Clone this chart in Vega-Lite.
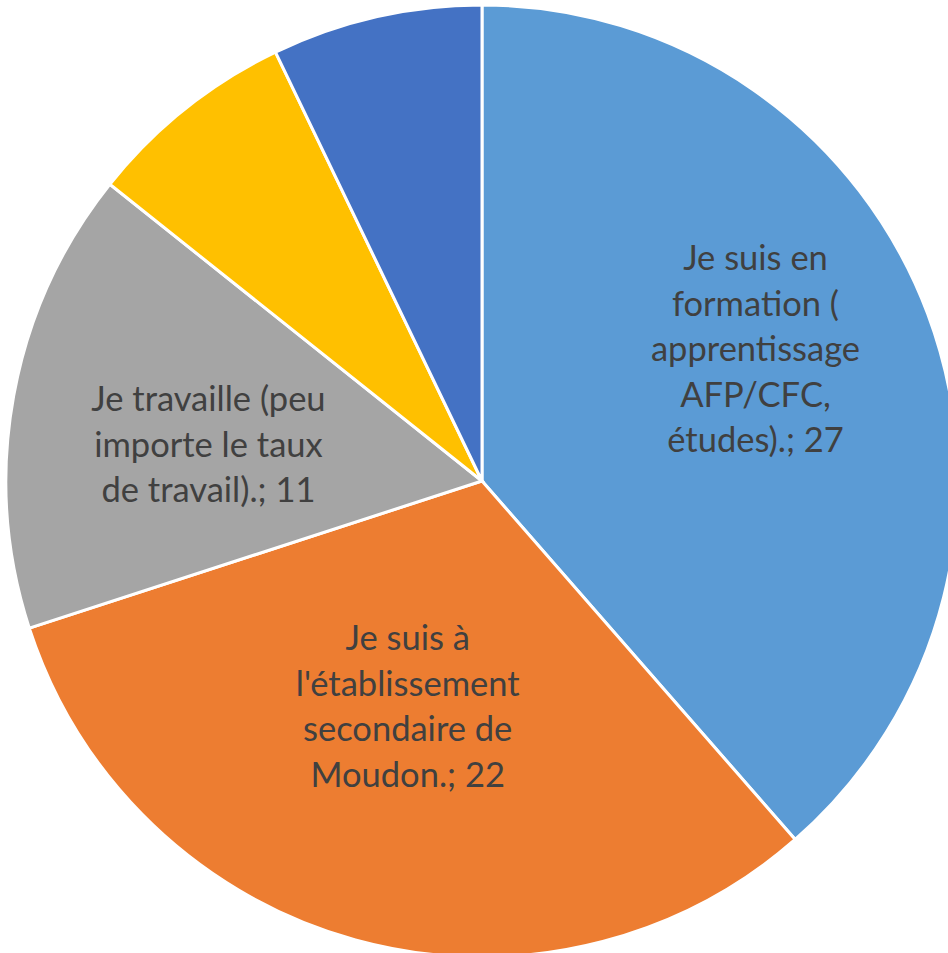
{
  "$schema": "https://vega.github.io/schema/vega-lite/v6.json",
  "width": 948,
  "height": 953,
  "autosize": {"type": "fit", "contains": "padding"},
  "padding": {"left": 16, "top": 9, "right": 0, "bottom": 0},
  "background": "white",
  "config": {"view": {"stroke": null}},
  "data": {
    "values": [
      {"rang": 1, "categorie": "Je suis en formation ( apprentissage AFP/CFC, études).", "valeur": 27, "etiquette": ["Je suis en", "formation (", "apprentissage", "AFP/CFC,", "études).; 27"]},
      {"rang": 2, "categorie": "Je suis à l'établissement secondaire de Moudon.", "valeur": 22, "etiquette": ["Je suis à", "l'établissement", "secondaire de", "Moudon.; 22"]},
      {"rang": 3, "categorie": "Je travaille (peu importe le taux de travail).", "valeur": 11, "etiquette": ["Je travaille (peu", "importe le taux", "de travail).; 11"]},
      {"rang": 4, "categorie": "Autre 1", "valeur": 5, "etiquette": [""]},
      {"rang": 5, "categorie": "Autre 2", "valeur": 5, "etiquette": [""]}
    ]
  },
  "layer": [
    {
      "mark": {"type": "arc", "outerRadius": 476, "stroke": "white", "strokeWidth": 3},
      "encoding": {
        "theta": {"field": "valeur", "type": "quantitative", "stack": true},
        "order": {"field": "rang", "type": "quantitative"},
        "color": {
          "field": "categorie",
          "type": "nominal",
          "sort": null,
          "scale": {
            "domain": ["Je suis en formation ( apprentissage AFP/CFC, études).", "Je suis à l'établissement secondaire de Moudon.", "Je travaille (peu importe le taux de travail).", "Autre 1", "Autre 2"],
            "range": ["#5B9BD5", "#ED7D31", "#A5A5A5", "#FFC000", "#4472C4"]
          },
          "legend": null
        }
      }
    },
    {
      "mark": {"type": "text", "radius": 290, "dx": 2, "dy": -119, "font": "Lato", "fontSize": 34.5, "lineHeight": 45.5, "color": "#404040", "align": "center", "baseline": "middle"},
      "encoding": {
        "theta": {"field": "valeur", "type": "quantitative", "stack": true},
        "order": {"field": "rang", "type": "quantitative"},
        "text": {"condition": {"test": "datum.rang == 1", "field": "etiquette"}, "value": ""}
      }
    },
    {
      "mark": {"type": "text", "radius": 238, "dx": -11, "dy": -70, "font": "Lato", "fontSize": 34.5, "lineHeight": 45.5, "color": "#404040", "align": "center", "baseline": "middle"},
      "encoding": {
        "theta": {"field": "valeur", "type": "quantitative", "stack": true},
        "order": {"field": "rang", "type": "quantitative"},
        "text": {"condition": {"test": "datum.rang == 2", "field": "etiquette"}, "value": ""}
      }
    },
    {
      "mark": {"type": "text", "radius": 276, "dx": -2, "dy": -30.5, "font": "Lato", "fontSize": 34.5, "lineHeight": 45.5, "color": "#404040", "align": "center", "baseline": "middle"},
      "encoding": {
        "theta": {"field": "valeur", "type": "quantitative", "stack": true},
        "order": {"field": "rang", "type": "quantitative"},
        "text": {"condition": {"test": "datum.rang == 3", "field": "etiquette"}, "value": ""}
      }
    }
  ]
}
